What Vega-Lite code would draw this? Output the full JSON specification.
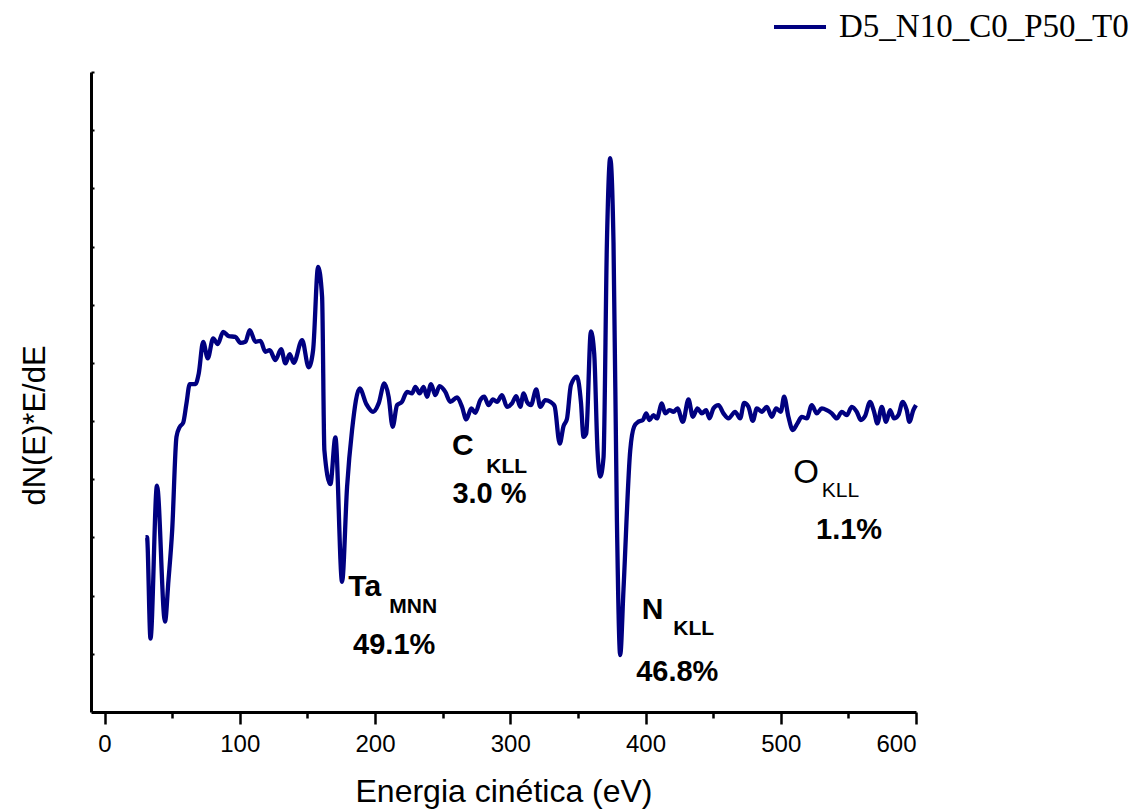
{
  "$schema": "https://vega.github.io/schema/vega-lite/v6.json",
  "width": 825,
  "height": 640,
  "autosize": {"type": "none"},
  "padding": {"left": 91, "top": 72, "right": 223, "bottom": 98},
  "background": "white",
  "config": {"view": {"stroke": null}, "font": "Liberation Sans"},
  "datasets": {
    "curve": [
      {"e":30.30,"v":3.007},{"e":31.40,"v":3.007},{"e":33.99,"v":1.263},{"e":38.79,"v":3.892},{"e":44.71,"v":1.552},
      {"e":47.29,"v":2.268},{"e":50.03,"v":3.127},{"e":53.20,"v":4.730},{"e":55.64,"v":4.902},{"e":58.15,"v":4.971},
      {"e":60.59,"v":5.304},{"e":63.03,"v":5.636},{"e":67.24,"v":5.636},{"e":69.68,"v":5.820},{"e":72.93,"v":6.363},
      {"e":76.33,"v":6.077},{"e":80.32,"v":6.421},{"e":83.72,"v":6.323},{"e":87.71,"v":6.534},{"e":91.85,"v":6.460},
      {"e":96.80,"v":6.448},{"e":100.49,"v":6.345},{"e":104.19,"v":6.363},{"e":107.37,"v":6.564},{"e":111.58,"v":6.363},
      {"e":115.27,"v":6.380},{"e":118.97,"v":6.191},{"e":122.15,"v":6.220},{"e":126.36,"v":6.048},{"e":130.57,"v":6.237},
      {"e":133.75,"v":5.991},{"e":136.92,"v":6.151},{"e":139.88,"v":6.002},{"e":146.09,"v":6.392},{"e":150.96,"v":5.923},
      {"e":154.22,"v":6.220},{"e":157.91,"v":7.651},{"e":160.87,"v":7.136},{"e":162.56,"v":4.502},{"e":167.00,"v":3.918},
      {"e":170.69,"v":4.720},{"e":175.64,"v":2.239},{"e":179.34,"v":3.871},{"e":183.03,"v":4.845},{"e":188.65,"v":5.562},
      {"e":193.60,"v":5.292},{"e":198.55,"v":5.160},{"e":202.69,"v":5.304},{"e":206.90,"v":5.648},{"e":210.08,"v":5.418},
      {"e":213.04,"v":4.902},{"e":216.29,"v":5.275},{"e":219.98,"v":5.332},{"e":223.67,"v":5.503},{"e":227.37,"v":5.476},
      {"e":229.81,"v":5.589},{"e":232.98,"v":5.476},{"e":235.94,"v":5.589},{"e":238.45,"v":5.418},{"e":241.41,"v":5.636},
      {"e":244.59,"v":5.447},{"e":247.76,"v":5.601},{"e":251.98,"v":5.503},{"e":255.67,"v":5.332},{"e":260.62,"v":5.407},
      {"e":264.32,"v":5.246},{"e":267.49,"v":5.029},{"e":271.19,"v":5.218},{"e":274.14,"v":5.143},{"e":277.84,"v":5.361},
      {"e":280.79,"v":5.418},{"e":283.97,"v":5.275},{"e":287.22,"v":5.373},{"e":290.18,"v":5.332},{"e":293.87,"v":5.447},
      {"e":297.57,"v":5.246},{"e":301.26,"v":5.304},{"e":304.44,"v":5.430},{"e":307.40,"v":5.246},{"e":309.84,"v":5.476},
      {"e":312.35,"v":5.332},{"e":315.30,"v":5.275},{"e":319.22,"v":5.545},{"e":322.17,"v":5.246},{"e":325.87,"v":5.361},
      {"e":329.56,"v":5.332},{"e":332.74,"v":5.258},{"e":336.58,"v":4.613},{"e":339.39,"v":4.914},{"e":341.90,"v":5.034},
      {"e":344.86,"v":5.619},{"e":349.29,"v":5.765},{"e":352.25,"v":5.326},{"e":354.17,"v":4.729},{"e":356.17,"v":4.787},
      {"e":359.64,"v":6.543},{"e":362.08,"v":6.156},{"e":364.52,"v":4.490},{"e":366.51,"v":4.045},{"e":368.95,"v":4.371},
      {"e":371.46,"v":8.060},{"e":373.90,"v":9.519},{"e":376.34,"v":8.060},{"e":378.85,"v":3.301},{"e":381.29,"v":0.979},
      {"e":383.73,"v":2.110},{"e":388.68,"v":4.490},{"e":391.63,"v":4.907},{"e":394.81,"v":4.991},{"e":398.06,"v":5.017},
      {"e":400.50,"v":5.132},{"e":402.94,"v":5.017},{"e":405.90,"v":5.103},{"e":408.41,"v":5.046},{"e":412.10,"v":5.304},
      {"e":414.54,"v":5.132},{"e":417.72,"v":5.189},{"e":420.68,"v":5.160},{"e":423.64,"v":5.218},{"e":427.62,"v":4.988},
      {"e":431.76,"v":5.373},{"e":435.01,"v":5.074},{"e":438.41,"v":5.218},{"e":441.66,"v":5.132},{"e":444.84,"v":5.189},
      {"e":447.28,"v":5.046},{"e":450.24,"v":5.218},{"e":453.93,"v":5.275},{"e":457.63,"v":5.132},{"e":461.32,"v":5.046},
      {"e":466.27,"v":5.160},{"e":469.97,"v":5.046},{"e":472.92,"v":5.314},{"e":476.10,"v":5.246},{"e":479.35,"v":5.005},
      {"e":482.31,"v":5.218},{"e":486.00,"v":5.160},{"e":489.70,"v":5.246},{"e":493.39,"v":5.074},{"e":496.57,"v":5.218},
      {"e":500.04,"v":5.160},{"e":502.48,"v":5.418},{"e":505.66,"v":5.074},{"e":508.91,"v":4.845},{"e":512.31,"v":4.960},
      {"e":515.56,"v":5.074},{"e":519.26,"v":5.046},{"e":522.95,"v":5.275},{"e":526.65,"v":5.132},{"e":530.34,"v":5.218},
      {"e":534.04,"v":5.189},{"e":537.73,"v":5.132},{"e":541.43,"v":5.046},{"e":545.12,"v":5.160},{"e":548.82,"v":5.103},
      {"e":552.51,"v":5.246},{"e":556.21,"v":5.160},{"e":559.16,"v":5.017},{"e":562.34,"v":5.086},{"e":566.03,"v":5.332},
      {"e":568.99,"v":5.160},{"e":571.43,"v":4.960},{"e":574.68,"v":5.246},{"e":577.86,"v":4.988},{"e":580.81,"v":5.189},
      {"e":583.77,"v":5.046},{"e":586.94,"v":5.103},{"e":590.19,"v":5.332},{"e":593.15,"v":5.189},{"e":595.07,"v":4.988},
      {"e":598.02,"v":5.189},{"e":600.00,"v":5.275}
    ],
    "notes": [
      {"e":180.3,"v":1.993,"t":"Ta","k":"main"},
      {"e":256.9,"v":4.416,"t":"C","k":"main"},
      {"e":397.3,"v":1.598,"t":"N","k":"main"},
      {"e":210.6,"v":1.701,"t":"MNN","k":"sub"},
      {"e":282.3,"v":4.101,"t":"KLL","k":"sub"},
      {"e":420.5,"v":1.323,"t":"KLL","k":"sub"},
      {"e":183.8,"v":0.997,"t":"49.1%","k":"pct"},
      {"e":257.2,"v":3.591,"t":"3.0 %","k":"pct"},
      {"e":393.1,"v":0.538,"t":"46.8%","k":"pct"},
      {"e":526.1,"v":2.967,"t":"1.1%","k":"pct"},
      {"e":509.3,"v":3.935,"t":"O","k":"omain"},
      {"e":530.3,"v":3.689,"t":"KLL","k":"osub"}
    ]
  },
  "encoding": {
    "x": {
      "field": "e", "type": "quantitative",
      "scale": {"domain": [-10, 600], "nice": false, "zero": false},
      "axis": {
        "values": [0,50,100,150,200,250,300,350,400,450,500,550,600],
        "labelExpr": "datum.value % 100 === 0 ? datum.label : ''",
        "tickSize": {"condition": {"test": "datum.value % 100 === 0", "value": 12}, "value": 6},
        "tickWidth": 2.5, "tickColor": "black",
        "domainWidth": 3, "domainColor": "black",
        "grid": false,
        "labelFontSize": 24, "labelColor": "black", "labelFont": "Liberation Sans", "labelPadding": 8,
        "title": "Energia cinética (eV)", "titleFontSize": 32, "titleFontWeight": "normal",
        "titleFont": "Liberation Sans", "titleColor": "black", "titlePadding": 20
      }
    },
    "y": {
      "field": "v", "type": "quantitative",
      "scale": {"domain": [0, 11], "nice": false, "zero": false},
      "axis": {
        "values": [1,2,3,4,5,6,7,8,9,10,11],
        "labels": false, "tickSize": -3, "tickWidth": 2, "tickColor": "black",
        "domainWidth": 3, "domainColor": "black", "grid": false,
        "title": "dN(E)*E/dE", "titleFontSize": 31, "titleFontWeight": "normal",
        "titleFont": "Liberation Sans", "titleColor": "black", "titlePadding": 39,
        "titleY": 353
      }
    }
  },
  "layer": [
    {
      "data": {"name": "curve"},
      "mark": {"type": "line", "strokeWidth": 4.3, "interpolate": "monotone"},
      "encoding": {
        "color": {
          "datum": "D5_N10_C0_P50_T0", "type": "nominal",
          "scale": {"range": ["#000080"]},
          "legend": {
            "orient": "none", "legendX": 681, "legendY": -73, "title": null,
            "symbolType": "stroke", "symbolSize": 2704, "symbolStrokeWidth": 4,
            "labelFont": "Liberation Serif", "labelFontSize": 33, "labelColor": "black",
            "labelOffset": 11, "labelLimit": 0, "padding": 0
          }
        }
      }
    },
    {
      "data": {"name": "notes"},
      "transform": [{"filter": "datum.k === 'main'"}],
      "mark": {"type": "text", "align": "left", "baseline": "alphabetic", "fontSize": 30, "fontWeight": "bold", "font": "Liberation Sans", "color": "black"},
      "encoding": {"text": {"field": "t"}}
    },
    {
      "data": {"name": "notes"},
      "transform": [{"filter": "datum.k === 'sub'"}],
      "mark": {"type": "text", "align": "left", "baseline": "alphabetic", "fontSize": 21, "fontWeight": "bold", "font": "Liberation Sans", "color": "black"},
      "encoding": {"text": {"field": "t"}}
    },
    {
      "data": {"name": "notes"},
      "transform": [{"filter": "datum.k === 'pct'"}],
      "mark": {"type": "text", "align": "left", "baseline": "alphabetic", "fontSize": 29, "fontWeight": "bold", "font": "Liberation Sans", "color": "black"},
      "encoding": {"text": {"field": "t"}}
    },
    {
      "data": {"name": "notes"},
      "transform": [{"filter": "datum.k === 'omain'"}],
      "mark": {"type": "text", "align": "left", "baseline": "alphabetic", "fontSize": 33, "fontWeight": "normal", "font": "Liberation Sans", "color": "black"},
      "encoding": {"text": {"field": "t"}}
    },
    {
      "data": {"name": "notes"},
      "transform": [{"filter": "datum.k === 'osub'"}],
      "mark": {"type": "text", "align": "left", "baseline": "alphabetic", "fontSize": 21, "fontWeight": "normal", "font": "Liberation Sans", "color": "black"},
      "encoding": {"text": {"field": "t"}}
    }
  ]
}
